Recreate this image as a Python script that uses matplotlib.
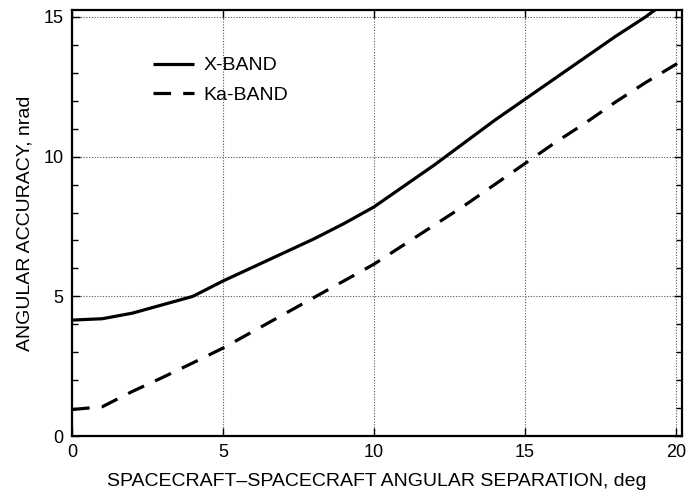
import matplotlib
matplotlib.use("Agg")
import matplotlib.pyplot as plt
from matplotlib.ticker import MultipleLocator

# separation angle, deg
sep_x = [0, 1, 2, 3, 4, 5, 6, 7, 8, 9, 10, 11, 12, 13, 14, 15, 16, 17, 18, 19, 19.5]
acc_x = [4.15, 4.2, 4.4, 4.7, 5.0, 5.55, 6.05, 6.55, 7.05, 7.6, 8.2, 8.95, 9.7, 10.5,
         11.3, 12.05, 12.8, 13.55, 14.3, 15.0, 15.4]

sep_ka = [0, 1, 2, 3, 4, 5, 6, 7, 8, 9, 10, 11, 12, 13, 14, 15, 16, 17, 18, 19, 20, 20.2]
acc_ka = [0.95, 1.05, 1.6, 2.1, 2.62, 3.15, 3.75, 4.35, 4.95, 5.55, 6.15, 6.85, 7.55,
          8.25, 9.0, 9.75, 10.5, 11.2, 11.95, 12.65, 13.3, 13.45]

labels = ["X-BAND", "Ka-BAND"]

plt.rcParams['font.family'] = ['Liberation Sans', 'DejaVu Sans']

fig = plt.figure(figsize=(7, 4.95), dpi=100)
ax = fig.add_axes([0.103, 0.119, 0.871, 0.861])

ax.plot(sep_x, acc_x, color='black', lw=2.3, label=labels[0], solid_capstyle='butt')
ax.plot(sep_ka, acc_ka, color='black', lw=2.3, label=labels[1],
        dashes=(5.5, 3.8), dash_capstyle='butt')

ax.set_xlim(0, 20.2)
ax.set_ylim(0, 15.25)
ax.xaxis.set_major_locator(MultipleLocator(5))
ax.yaxis.set_major_locator(MultipleLocator(5))
ax.yaxis.set_minor_locator(MultipleLocator(1))

ax.grid(True, which='major', linestyle=(0, (1, 1.5)), color='#555555', lw=0.8)
ax.tick_params(which='both', direction='in', top=True, right=True, labelsize=13,
               width=1.0, color='black')
ax.tick_params(which='major', length=6, pad=6)
ax.tick_params(which='minor', length=4)
for s in ax.spines.values():
    s.set_linewidth(1.6)

ax.set_xlabel("SPACECRAFT\u2013SPACECRAFT ANGULAR SEPARATION, deg", fontsize=14, labelpad=8)
ax.set_ylabel("ANGULAR ACCURACY, nrad", fontsize=14, labelpad=7)

ax.legend(loc='upper left', bbox_to_anchor=(0.133, 0.89), frameon=False, fontsize=14,
          handlelength=2.1, handletextpad=0.5, labelspacing=0.62,
          borderaxespad=0, borderpad=0)

fig.savefig("out.png", dpi=100)
